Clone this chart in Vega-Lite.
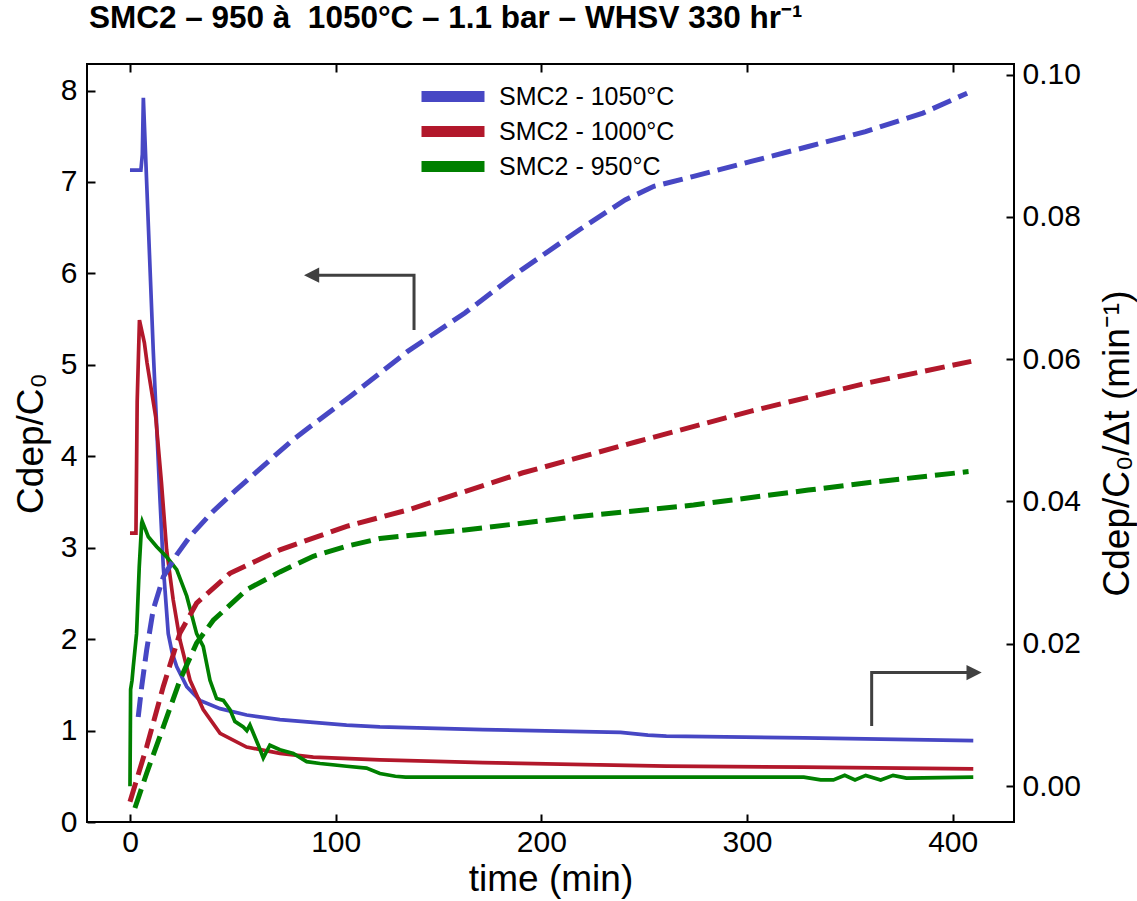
{
  "$schema": "https://vega.github.io/schema/vega-lite/v6.json",
  "width": 927,
  "height": 758,
  "autosize": {"type": "none"},
  "padding": {"left": 87, "top": 64, "right": 123, "bottom": 79},
  "background": "white",
  "config": {
    "view": {"stroke": "black", "strokeWidth": 2},
    "font": "Liberation Sans",
    "axis": {
      "domain": false,
      "grid": false,
      "tickColor": "black",
      "tickWidth": 2,
      "tickSize": -8,
      "labelColor": "black",
      "labelFont": "Liberation Sans",
      "labelFontSize": 30,
      "titleFont": "Liberation Sans",
      "titleFontSize": 37,
      "titleFontWeight": "normal",
      "titleColor": "black"
    }
  },
  "title": {
    "text": "SMC2 – 950 à \u00a01050°C – 1.1 bar – WHSV 330 hr⁻¹",
    "anchor": "start",
    "frame": "group",
    "fontSize": 31.5,
    "fontWeight": "bold",
    "font": "Liberation Sans",
    "color": "black",
    "baseline": "alphabetic",
    "offset": 0,
    "dx": 2
  },
  "datasets": {
    "solid": [
      {"t": 0, "c": 7.13, "serie": "SMC2 - 1050°C"},
      {"t": 5.3, "c": 7.13, "serie": "SMC2 - 1050°C"},
      {"t": 6.0, "c": 7.3, "serie": "SMC2 - 1050°C"},
      {"t": 6.5, "c": 7.92, "serie": "SMC2 - 1050°C"},
      {"t": 11.3, "c": 5.16, "serie": "SMC2 - 1050°C"},
      {"t": 14.6, "c": 3.52, "serie": "SMC2 - 1050°C"},
      {"t": 16.2, "c": 2.79, "serie": "SMC2 - 1050°C"},
      {"t": 18.6, "c": 2.06, "serie": "SMC2 - 1050°C"},
      {"t": 20.5, "c": 1.85, "serie": "SMC2 - 1050°C"},
      {"t": 22.7, "c": 1.7, "serie": "SMC2 - 1050°C"},
      {"t": 27.6, "c": 1.48, "serie": "SMC2 - 1050°C"},
      {"t": 34, "c": 1.33, "serie": "SMC2 - 1050°C"},
      {"t": 43.8, "c": 1.24, "serie": "SMC2 - 1050°C"},
      {"t": 56.7, "c": 1.17, "serie": "SMC2 - 1050°C"},
      {"t": 72.9, "c": 1.12, "serie": "SMC2 - 1050°C"},
      {"t": 89.1, "c": 1.09, "serie": "SMC2 - 1050°C"},
      {"t": 105.3, "c": 1.06, "serie": "SMC2 - 1050°C"},
      {"t": 121.5, "c": 1.04, "serie": "SMC2 - 1050°C"},
      {"t": 171.6, "c": 1.01, "serie": "SMC2 - 1050°C"},
      {"t": 238.5, "c": 0.98, "serie": "SMC2 - 1050°C"},
      {"t": 251.8, "c": 0.95, "serie": "SMC2 - 1050°C"},
      {"t": 260.8, "c": 0.94, "serie": "SMC2 - 1050°C"},
      {"t": 327.6, "c": 0.92, "serie": "SMC2 - 1050°C"},
      {"t": 410, "c": 0.89, "serie": "SMC2 - 1050°C"},
      {"t": 0, "c": 3.16, "serie": "SMC2 - 1000°C"},
      {"t": 2.9, "c": 3.16, "serie": "SMC2 - 1000°C"},
      {"t": 3.5, "c": 4.6, "serie": "SMC2 - 1000°C"},
      {"t": 4.6, "c": 5.49, "serie": "SMC2 - 1000°C"},
      {"t": 7.0, "c": 5.24, "serie": "SMC2 - 1000°C"},
      {"t": 8.3, "c": 5.02, "serie": "SMC2 - 1000°C"},
      {"t": 12.5, "c": 4.43, "serie": "SMC2 - 1000°C"},
      {"t": 15.3, "c": 3.71, "serie": "SMC2 - 1000°C"},
      {"t": 17.8, "c": 2.98, "serie": "SMC2 - 1000°C"},
      {"t": 21.0, "c": 2.43, "serie": "SMC2 - 1000°C"},
      {"t": 24.3, "c": 1.99, "serie": "SMC2 - 1000°C"},
      {"t": 29.2, "c": 1.55, "serie": "SMC2 - 1000°C"},
      {"t": 35.6, "c": 1.23, "serie": "SMC2 - 1000°C"},
      {"t": 43.8, "c": 0.97, "serie": "SMC2 - 1000°C"},
      {"t": 56.7, "c": 0.82, "serie": "SMC2 - 1000°C"},
      {"t": 72.9, "c": 0.75, "serie": "SMC2 - 1000°C"},
      {"t": 89.1, "c": 0.71, "serie": "SMC2 - 1000°C"},
      {"t": 121.5, "c": 0.68, "serie": "SMC2 - 1000°C"},
      {"t": 171.6, "c": 0.65, "serie": "SMC2 - 1000°C"},
      {"t": 260.8, "c": 0.61, "serie": "SMC2 - 1000°C"},
      {"t": 327.6, "c": 0.6, "serie": "SMC2 - 1000°C"},
      {"t": 410, "c": 0.58, "serie": "SMC2 - 1000°C"},
      {"t": 0, "c": 0.39, "serie": "SMC2 - 950°C"},
      {"t": 0.3, "c": 1.45, "serie": "SMC2 - 950°C"},
      {"t": 1.0, "c": 1.55, "serie": "SMC2 - 950°C"},
      {"t": 1.6, "c": 1.7, "serie": "SMC2 - 950°C"},
      {"t": 3.2, "c": 2.06, "serie": "SMC2 - 950°C"},
      {"t": 4.5, "c": 2.79, "serie": "SMC2 - 950°C"},
      {"t": 5.7, "c": 3.27, "serie": "SMC2 - 950°C"},
      {"t": 5.9, "c": 3.29, "serie": "SMC2 - 950°C"},
      {"t": 8.9, "c": 3.12, "serie": "SMC2 - 950°C"},
      {"t": 13, "c": 3.01, "serie": "SMC2 - 950°C"},
      {"t": 17.8, "c": 2.9, "serie": "SMC2 - 950°C"},
      {"t": 22.7, "c": 2.76, "serie": "SMC2 - 950°C"},
      {"t": 27.6, "c": 2.47, "serie": "SMC2 - 950°C"},
      {"t": 32.4, "c": 2.06, "serie": "SMC2 - 950°C"},
      {"t": 35.6, "c": 1.92, "serie": "SMC2 - 950°C"},
      {"t": 38.9, "c": 1.55, "serie": "SMC2 - 950°C"},
      {"t": 42.1, "c": 1.35, "serie": "SMC2 - 950°C"},
      {"t": 45.4, "c": 1.33, "serie": "SMC2 - 950°C"},
      {"t": 48.6, "c": 1.23, "serie": "SMC2 - 950°C"},
      {"t": 51, "c": 1.1, "serie": "SMC2 - 950°C"},
      {"t": 55.1, "c": 1.04, "serie": "SMC2 - 950°C"},
      {"t": 56.8, "c": 1.0, "serie": "SMC2 - 950°C"},
      {"t": 58.3, "c": 1.06, "serie": "SMC2 - 950°C"},
      {"t": 62.4, "c": 0.84, "serie": "SMC2 - 950°C"},
      {"t": 64.8, "c": 0.7, "serie": "SMC2 - 950°C"},
      {"t": 68, "c": 0.84, "serie": "SMC2 - 950°C"},
      {"t": 72.9, "c": 0.79, "serie": "SMC2 - 950°C"},
      {"t": 79.4, "c": 0.75, "serie": "SMC2 - 950°C"},
      {"t": 85.9, "c": 0.66, "serie": "SMC2 - 950°C"},
      {"t": 92.4, "c": 0.64, "serie": "SMC2 - 950°C"},
      {"t": 105.3, "c": 0.61, "serie": "SMC2 - 950°C"},
      {"t": 115, "c": 0.59, "serie": "SMC2 - 950°C"},
      {"t": 121.5, "c": 0.53, "serie": "SMC2 - 950°C"},
      {"t": 129, "c": 0.5, "serie": "SMC2 - 950°C"},
      {"t": 134, "c": 0.49, "serie": "SMC2 - 950°C"},
      {"t": 327.6, "c": 0.49, "serie": "SMC2 - 950°C"},
      {"t": 335.8, "c": 0.46, "serie": "SMC2 - 950°C"},
      {"t": 342, "c": 0.46, "serie": "SMC2 - 950°C"},
      {"t": 347.5, "c": 0.51, "serie": "SMC2 - 950°C"},
      {"t": 352.5, "c": 0.46, "serie": "SMC2 - 950°C"},
      {"t": 357.7, "c": 0.51, "serie": "SMC2 - 950°C"},
      {"t": 365, "c": 0.46, "serie": "SMC2 - 950°C"},
      {"t": 371, "c": 0.51, "serie": "SMC2 - 950°C"},
      {"t": 377.5, "c": 0.48, "serie": "SMC2 - 950°C"},
      {"t": 410, "c": 0.49, "serie": "SMC2 - 950°C"}
    ],
    "rate": [
      {"t": 4.0, "r": 0.0097, "serie": "SMC2 - 1050°C"},
      {"t": 5.7, "r": 0.014, "serie": "SMC2 - 1050°C"},
      {"t": 8.1, "r": 0.0191, "serie": "SMC2 - 1050°C"},
      {"t": 11.3, "r": 0.0248, "serie": "SMC2 - 1050°C"},
      {"t": 16.2, "r": 0.0294, "serie": "SMC2 - 1050°C"},
      {"t": 22.7, "r": 0.0325, "serie": "SMC2 - 1050°C"},
      {"t": 29.2, "r": 0.0351, "serie": "SMC2 - 1050°C"},
      {"t": 40, "r": 0.0385, "serie": "SMC2 - 1050°C"},
      {"t": 51.5, "r": 0.0416, "serie": "SMC2 - 1050°C"},
      {"t": 79.3, "r": 0.0487, "serie": "SMC2 - 1050°C"},
      {"t": 107.2, "r": 0.0548, "serie": "SMC2 - 1050°C"},
      {"t": 135, "r": 0.0611, "serie": "SMC2 - 1050°C"},
      {"t": 162.8, "r": 0.0665, "serie": "SMC2 - 1050°C"},
      {"t": 190.6, "r": 0.0726, "serie": "SMC2 - 1050°C"},
      {"t": 218.5, "r": 0.0782, "serie": "SMC2 - 1050°C"},
      {"t": 240.7, "r": 0.0824, "serie": "SMC2 - 1050°C"},
      {"t": 254.7, "r": 0.0843, "serie": "SMC2 - 1050°C"},
      {"t": 274, "r": 0.0857, "serie": "SMC2 - 1050°C"},
      {"t": 302, "r": 0.0878, "serie": "SMC2 - 1050°C"},
      {"t": 329.8, "r": 0.0899, "serie": "SMC2 - 1050°C"},
      {"t": 357.6, "r": 0.092, "serie": "SMC2 - 1050°C"},
      {"t": 385.5, "r": 0.0946, "serie": "SMC2 - 1050°C"},
      {"t": 407, "r": 0.0974, "serie": "SMC2 - 1050°C"},
      {"t": 0, "r": -0.0022, "serie": "SMC2 - 1000°C"},
      {"t": 8.1, "r": 0.0055, "serie": "SMC2 - 1000°C"},
      {"t": 16.2, "r": 0.014, "serie": "SMC2 - 1000°C"},
      {"t": 24.3, "r": 0.0215, "serie": "SMC2 - 1000°C"},
      {"t": 32.4, "r": 0.0257, "serie": "SMC2 - 1000°C"},
      {"t": 48.6, "r": 0.0299, "serie": "SMC2 - 1000°C"},
      {"t": 72.9, "r": 0.0332, "serie": "SMC2 - 1000°C"},
      {"t": 105.3, "r": 0.0365, "serie": "SMC2 - 1000°C"},
      {"t": 135, "r": 0.0388, "serie": "SMC2 - 1000°C"},
      {"t": 190.6, "r": 0.044, "serie": "SMC2 - 1000°C"},
      {"t": 246.3, "r": 0.0484, "serie": "SMC2 - 1000°C"},
      {"t": 302, "r": 0.0527, "serie": "SMC2 - 1000°C"},
      {"t": 357.6, "r": 0.0566, "serie": "SMC2 - 1000°C"},
      {"t": 409, "r": 0.0597, "serie": "SMC2 - 1000°C"},
      {"t": 2.4, "r": -0.0031, "serie": "SMC2 - 950°C"},
      {"t": 8.1, "r": 0.0018, "serie": "SMC2 - 950°C"},
      {"t": 16.2, "r": 0.0083, "serie": "SMC2 - 950°C"},
      {"t": 24.3, "r": 0.0149, "serie": "SMC2 - 950°C"},
      {"t": 32.4, "r": 0.0201, "serie": "SMC2 - 950°C"},
      {"t": 40.5, "r": 0.0233, "serie": "SMC2 - 950°C"},
      {"t": 56.7, "r": 0.0276, "serie": "SMC2 - 950°C"},
      {"t": 72.9, "r": 0.0301, "serie": "SMC2 - 950°C"},
      {"t": 89.1, "r": 0.0323, "serie": "SMC2 - 950°C"},
      {"t": 105.3, "r": 0.0337, "serie": "SMC2 - 950°C"},
      {"t": 121.5, "r": 0.0348, "serie": "SMC2 - 950°C"},
      {"t": 162.8, "r": 0.036, "serie": "SMC2 - 950°C"},
      {"t": 218.5, "r": 0.0379, "serie": "SMC2 - 950°C"},
      {"t": 274, "r": 0.0395, "serie": "SMC2 - 950°C"},
      {"t": 329.8, "r": 0.0416, "serie": "SMC2 - 950°C"},
      {"t": 357.6, "r": 0.0426, "serie": "SMC2 - 950°C"},
      {"t": 407.7, "r": 0.0442, "serie": "SMC2 - 950°C"}
    ],
    "arrows": [
      {"arrow": "left", "ord": 1, "t": 138.1, "c": 5.38},
      {"arrow": "left", "ord": 2, "t": 138.1, "c": 5.98},
      {"arrow": "left", "ord": 3, "t": 88.3, "c": 5.98},
      {"arrow": "right", "ord": 1, "t": 360.6, "c": 1.05},
      {"arrow": "right", "ord": 2, "t": 360.6, "c": 1.634},
      {"arrow": "right", "ord": 3, "t": 410.4, "c": 1.634}
    ],
    "heads": [
      {"dir": "left", "t": 88.3, "c": 5.98},
      {"dir": "right", "t": 410.4, "c": 1.634}
    ]
  },
  "layer": [
    {
      "layer": [
        {
          "data": {"name": "solid"},
          "mark": {"type": "line", "strokeWidth": 3.7},
          "encoding": {
            "x": {
              "field": "t", "type": "quantitative",
              "scale": {"domain": [-20.9, 429.8], "nice": false, "zero": false},
              "axis": {"orient": "bottom", "values": [0, 100, 200, 300, 400], "title": "time (min)", "labelPadding": 13, "titleBaseline": "alphabetic", "titleY": 68}
            },
            "y": {
              "field": "c", "type": "quantitative",
              "scale": {"domain": [0, 8.29], "nice": false, "zero": false},
              "axis": {"orient": "left", "values": [0, 1, 2, 3, 4, 5, 6, 7, 8], "format": "d", "title": "Cdep/C₀", "labelPadding": 18, "titleX": -56, "titleBaseline": "middle"}
            },
            "color": {
              "field": "serie", "type": "nominal",
              "scale": {"domain": ["SMC2 - 1050°C", "SMC2 - 1000°C", "SMC2 - 950°C"], "range": ["#4747C4", "#B2182B", "#008000"]},
              "legend": {
                "title": null,
                "orient": "none",
                "legendX": 327,
                "legendY": 20,
                "symbolType": "M-1,0H11.6",
                "symbolSize": 100,
                "symbolStrokeWidth": 11,
                "symbolDash": [1, 0],
                "labelOffset": 60,
                "labelLimit": 400,
                "labelFontSize": 25,
                "labelFont": "Liberation Sans",
                "labelColor": "black",
                "rowPadding": -10,
                "padding": 0
              }
            }
          }
        },
        {
          "data": {"name": "arrows"},
          "mark": {"type": "line", "color": "#404040", "strokeWidth": 3},
          "encoding": {
            "x": {"field": "t", "type": "quantitative"},
            "y": {"field": "c", "type": "quantitative"},
            "detail": {"field": "arrow"},
            "order": {"field": "ord"}
          }
        },
        {
          "data": {"name": "heads"},
          "mark": {"type": "point", "filled": true, "color": "#404040", "opacity": 1, "size": 231},
          "encoding": {
            "x": {"field": "t", "type": "quantitative"},
            "y": {"field": "c", "type": "quantitative"},
            "shape": {"field": "dir", "type": "nominal", "scale": {"domain": ["left", "right"], "range": ["M-1,0L1,-1L1,1Z", "M1,0L-1,-1L-1,1Z"]}, "legend": null}
          }
        }
      ]
    },
    {
      "data": {"name": "rate"},
      "mark": {"type": "line", "strokeWidth": 5, "strokeDash": [20, 8]},
      "encoding": {
        "x": {
          "field": "t", "type": "quantitative",
          "scale": {"domain": [-20.9, 429.8], "nice": false, "zero": false},
          "axis": {"orient": "top", "labels": false, "title": null, "values": [0, 100, 200, 300, 400]}
        },
        "y": {
          "field": "r", "type": "quantitative",
          "scale": {"domain": [-0.00506, 0.1015], "nice": false, "zero": false},
          "axis": {"orient": "right", "values": [0, 0.02, 0.04, 0.06, 0.08, 0.1], "format": ".2f", "title": "Cdep/C₀/Δt (min⁻¹)", "titleAngle": 270, "titleX": 103, "titleBaseline": "middle", "labelPadding": 16}
        },
        "color": {"field": "serie", "type": "nominal"}
      }
    }
  ],
  "resolve": {"scale": {"y": "independent"}, "axis": {"x": "independent"}}
}
